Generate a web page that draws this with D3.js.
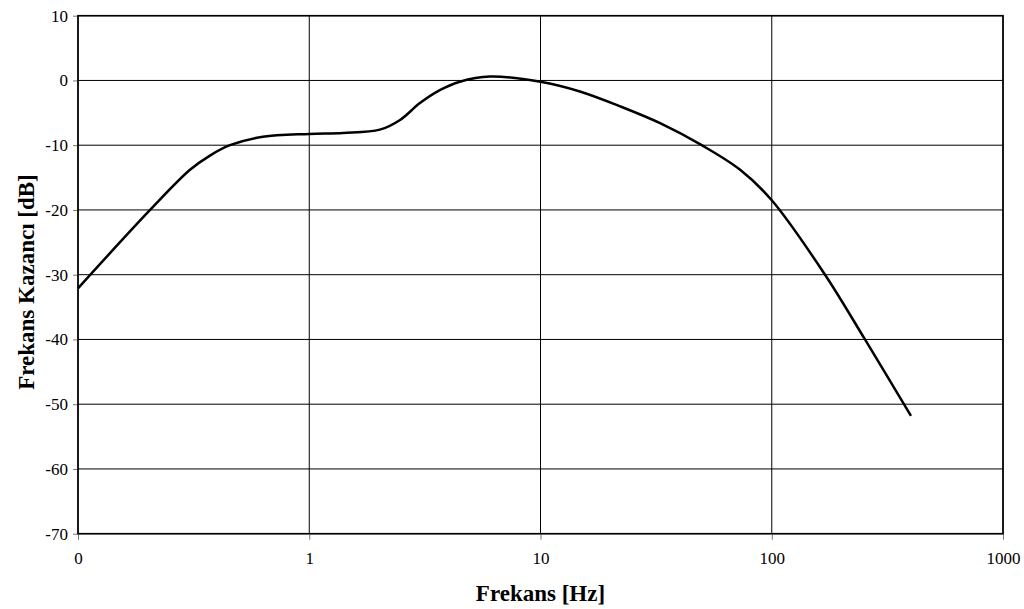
<!DOCTYPE html>
<html>
<head>
<meta charset="utf-8">
<script src="https://cdn.jsdelivr.net/npm/d3@7"></script>
<style>
  body { margin: 0; background: #fff; }
  svg text { font-family: "Liberation Serif", "Times New Roman", serif; }
</style>
</head>
<body>
<div id="chart"></div>
<script>
// frequency response
var freq = [0.1, 0.205, 0.305, 0.372, 0.454, 0.63, 1, 1.4, 2.02, 2.47, 3.01, 3.67, 4.48, 6.05, 10, 14.8, 22.1, 32.9, 49.8, 73, 100, 170, 253, 400];
var gain = [-32.1, -20.0, -13.8, -11.6, -10.0, -8.7, -8.26, -8.1, -7.6, -6.1, -3.5, -1.5, -0.2, 0.6, -0.2, -1.7, -4.0, -6.6, -10.0, -13.8, -18.5, -30.0, -40.0, -51.8];

var xTicks = [0.1, 1, 10, 100, 1000];
var xTickLabels = ["0", "1", "10", "100", "1000"];
var yTicks = [10, 0, -10, -20, -30, -40, -50, -60, -70];

var width = 1024, height = 609;
var margin = {top: 15.7, right: 21, bottom: 75.3, left: 78};

var svg = d3.select("#chart").append("svg")
    .attr("width", width).attr("height", height);

var x = d3.scaleLog().domain([0.1, 1000]).range([margin.left, width - margin.right]);
var y = d3.scaleLinear().domain([-70, 10]).range([height - margin.bottom, margin.top]);

var g = svg.append("g");

// grid
g.selectAll(".hgrid").data(yTicks).enter().append("line")
    .attr("x1", x(0.1)).attr("x2", x(1000))
    .attr("y1", function(d) { return y(d); }).attr("y2", function(d) { return y(d); })
    .attr("stroke", "#000").attr("stroke-width", 1);
g.selectAll(".vgrid").data(xTicks).enter().append("line")
    .attr("x1", function(d) { return x(d); }).attr("x2", function(d) { return x(d); })
    .attr("y1", y(10)).attr("y2", y(-70))
    .attr("stroke", "#000").attr("stroke-width", 1);

// axes
var xAxis = d3.axisBottom(x).tickValues(xTicks)
    .tickFormat(function(d, i) { return xTickLabels[i]; })
    .tickSize(6).tickPadding(12);
var yAxis = d3.axisLeft(y).tickValues(yTicks)
    .tickFormat(function(d) { return String(d); })
    .tickSize(5).tickPadding(5);

var gx = g.append("g").attr("transform", "translate(0," + y(-70) + ")").call(xAxis);
var gy = g.append("g").attr("transform", "translate(" + x(0.1) + ",0)").call(yAxis);
[gx, gy].forEach(function(a) {
    a.attr("font-size", null).attr("font-family", null);
    a.select(".domain").remove();
    a.selectAll("line").attr("stroke", "#777");
    a.selectAll("text").attr("fill", "#000")
        .style("font-size", "17px")
        .style("font-family", "'Liberation Serif', serif");
});

// plot frame
g.append("rect")
    .attr("x", x(0.1)).attr("y", y(10))
    .attr("width", x(1000) - x(0.1)).attr("height", y(-70) - y(10))
    .attr("fill", "none").attr("stroke", "#000").attr("stroke-width", 1.6);

// curve
var line = d3.line()
    .x(function(d, i) { return x(freq[i]); })
    .y(function(d) { return y(d); })
    .curve(d3.curveCatmullRom.alpha(0.5));

g.append("path").datum(gain)
    .attr("d", line)
    .attr("fill", "none").attr("stroke", "#000").attr("stroke-width", 2.5)
    .attr("stroke-linejoin", "round");

// axis titles
svg.append("text")
    .attr("x", (x(0.1) + x(1000)) / 2).attr("y", 601)
    .attr("text-anchor", "middle").attr("font-size", 23).attr("font-weight", "bold")
    .text("Frekans [Hz]");
svg.append("text")
    .attr("transform", "translate(34," + 282 + ") rotate(-90)")
    .attr("text-anchor", "middle").attr("font-size", 23).attr("font-weight", "bold")
    .text("Frekans Kazancı [dB]");
</script>
</body>
</html>
